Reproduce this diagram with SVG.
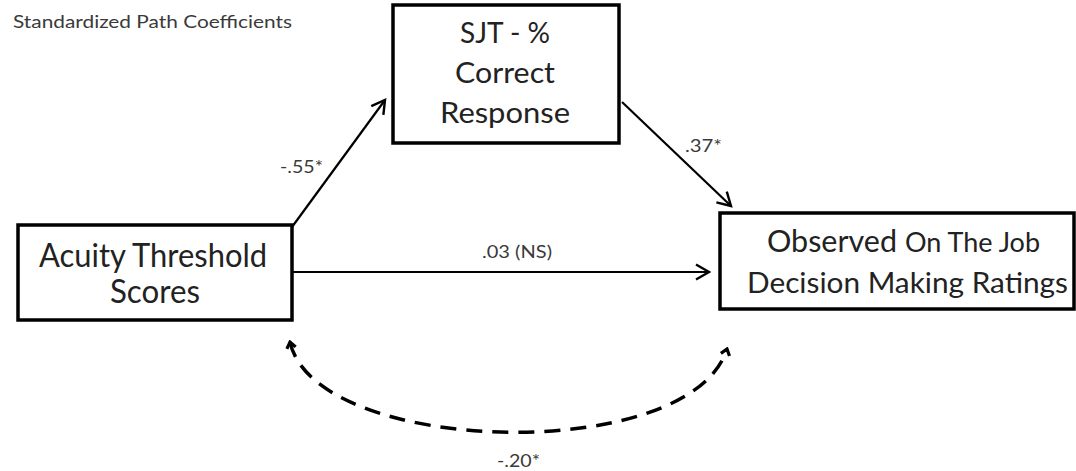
<svg xmlns="http://www.w3.org/2000/svg" width="1076" height="471" viewBox="0 0 1076 471">
  <style>
    .box { fill: #ffffff; stroke: #000000; stroke-width: 3.5; }
    .nt { font-family: Lato, "Liberation Sans", sans-serif; fill: #222222; }
    .lbl { font-family: Lato, "Liberation Sans", sans-serif; font-size: 17px; fill: #3a3a3a; }
    .conn { fill: none; stroke: #000000; stroke-width: 2.2; }
    .dash { fill: none; stroke: #000000; stroke-width: 3.5; stroke-dasharray: 16 10; }
  </style>
  <defs>
    <marker id="arr" viewBox="-15 -10 18 20" markerWidth="18" markerHeight="20" refX="0" refY="0" orient="auto" markerUnits="userSpaceOnUse">
      <path d="M -13 -7.5 L 0 0 L -13 7.5" fill="none" stroke="#000" stroke-width="2.4" stroke-linejoin="miter"/>
    </marker>
    <marker id="darr" viewBox="-10 -8 12 16" markerWidth="12" markerHeight="16" refX="0" refY="0" orient="auto-start-reverse" markerUnits="userSpaceOnUse">
      <path d="M -6 -4.5 L 0 0 L -6 4.5" fill="none" stroke="#000" stroke-width="3.2"/>
    </marker>
  </defs>
  <rect width="1076" height="471" fill="#ffffff"/>

  <text class="lbl" x="13" y="28" textLength="279" lengthAdjust="spacingAndGlyphs">Standardized Path Coefficients</text>

  <g id="connectors">
    <path class="conn" d="M 292 227 L 385 100" marker-end="url(#arr)"/>
    <path class="conn" d="M 622 102 L 731 206" marker-end="url(#arr)"/>
    <path class="conn" d="M 292 272 L 709 272" marker-end="url(#arr)"/>
    <path class="dash" d="M 290 342 C 315 456, 690 466, 727 349" marker-start="url(#darr)" marker-end="url(#darr)"/>
    <text class="lbl" x="280" y="173" textLength="43" lengthAdjust="spacingAndGlyphs">-.55*</text>
    <text class="lbl" x="685" y="152" textLength="37" lengthAdjust="spacingAndGlyphs">.37*</text>
    <text class="lbl" x="482" y="258" textLength="70" lengthAdjust="spacingAndGlyphs">.03 (NS)</text>
    <text class="lbl" x="497" y="467" textLength="43" lengthAdjust="spacingAndGlyphs">-.20*</text>
  </g>

  <g id="sjt">
    <rect class="box" x="393" y="5" width="226" height="138"/>
    <text class="nt" font-size="29" x="460" y="43" textLength="90" lengthAdjust="spacingAndGlyphs">SJT - %</text>
    <text class="nt" font-size="29" x="455" y="83" textLength="100" lengthAdjust="spacingAndGlyphs">Correct</text>
    <text class="nt" font-size="29" x="440" y="123" textLength="130" lengthAdjust="spacingAndGlyphs">Response</text>
  </g>

  <g id="acuity">
    <rect class="box" x="18" y="225" width="274" height="95"/>
    <text class="nt" font-size="32" x="39" y="267" textLength="228" lengthAdjust="spacingAndGlyphs">Acuity Threshold</text>
    <text class="nt" font-size="32" x="110" y="303" textLength="90" lengthAdjust="spacingAndGlyphs">Scores</text>
  </g>

  <g id="observed">
    <rect class="box" x="720" y="213" width="354" height="96"/>
    <text class="nt" font-size="30" x="767" y="252" textLength="130" lengthAdjust="spacingAndGlyphs">Observed</text>
    <text class="nt" font-size="26" x="905" y="252" textLength="135" lengthAdjust="spacingAndGlyphs">On The Job</text>
    <text class="nt" font-size="28" x="747" y="293" textLength="321" lengthAdjust="spacingAndGlyphs">Decision Making Ratings</text>
  </g>
</svg>
